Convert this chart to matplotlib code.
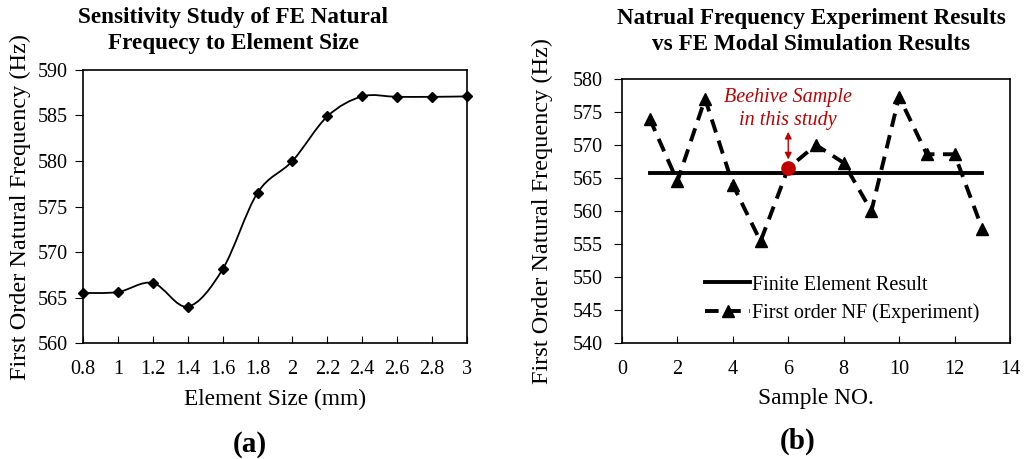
import numpy as np
import matplotlib
matplotlib.use('Agg')
import matplotlib.pyplot as plt
from matplotlib.path import Path
from matplotlib.patches import PathPatch

plt.rcParams['font.family'] = ['Liberation Serif', 'DejaVu Serif']

# (a) mesh sensitivity
element_size = [0.8, 1.0, 1.2, 1.4, 1.6, 1.8, 2.0, 2.2, 2.4, 2.6, 2.8, 3.0]
nat_freq = [565.5, 565.6, 566.6, 564.0, 568.1, 576.5, 580.0, 584.9, 587.1, 587.05, 587.05, 587.1]

# (b) experiment vs FE
sample_no = [1, 2, 3, 4, 5, 6, 7, 8, 9, 10, 11, 12, 13]
exp_freq = [574.0, 564.5, 577.0, 564.0, 555.4, 566.5, 570.0, 567.3, 560.0, 577.3, 568.6, 568.6, 557.3]
fe_freq = 565.7
beehive_sample = 6
beehive_freq = 566.5


def smooth_path(x, y):
    # excel-like smoothed line: catmull-rom as cubic bezier
    x = np.asarray(x, float)
    y = np.asarray(y, float)
    px = np.concatenate([[x[0]], x, [x[-1]]])
    py = np.concatenate([[y[0]], y, [y[-1]]])
    verts = [(x[0], y[0])]
    codes = [Path.MOVETO]
    for i in range(1, len(px) - 2):
        c1 = (px[i] + (px[i + 1] - px[i - 1]) / 6, py[i] + (py[i + 1] - py[i - 1]) / 6)
        c2 = (px[i + 1] - (px[i + 2] - px[i]) / 6, py[i + 1] - (py[i + 2] - py[i]) / 6)
        verts += [c1, c2, (px[i + 1], py[i + 1])]
        codes += [Path.CURVE4] * 3
    return Path(verts, codes)


fig = plt.figure(figsize=(10.27, 4.59), dpi=100)
ax1 = fig.add_axes([0.0808, 0.2527, 0.3739, 0.5948])
ax2 = fig.add_axes([0.6056, 0.2527, 0.3778, 0.5752])

# --- left chart
ax1.add_patch(PathPatch(smooth_path(element_size, nat_freq), fill=False, lw=1.3, color='black'))
ax1.plot(element_size, nat_freq, ls='none', marker='D', ms=5.5, color='black', clip_on=False)
ax1.set_xlim(0.8, 3.0)
ax1.set_ylim(560, 590)
ax1.set_xticks(element_size)
ax1.set_xticklabels(['0.8', '1', '1.2', '1.4', '1.6', '1.8', '2', '2.2', '2.4', '2.6', '2.8', '3'])
ax1.set_yticks(np.arange(560, 591, 5))
ax1.set_xlabel('Element Size (mm)', fontsize=16.8, labelpad=7)
ax1.set_ylabel('First Order Natural Frequency (Hz)', fontsize=17.5, labelpad=5)
ax1.tick_params(axis='y', pad=5.5)

# --- right chart
ax2.plot([sample_no[0], sample_no[-1]], [fe_freq, fe_freq], color='black', lw=2.8,
         label='Finite Element Result')
ax2.plot(sample_no, exp_freq, color='black', lw=2.8, ls=(0, (3.5, 2.2)), marker='^', ms=9,
         label='First order NF (Experiment)')
ax2.plot(beehive_sample, beehive_freq, 'o', color='#c00000', ms=9.5, zorder=5)
ax2.annotate('', xy=(beehive_sample, 567.8), xytext=(beehive_sample, 572.0),
             arrowprops=dict(arrowstyle='<|-|>', color='#c00000', lw=1.0,
                             mutation_scale=10, shrinkA=0, shrinkB=0))
ax2.text(beehive_sample, 575.4, 'Beehive Sample\nin this study', color='#c00000',
         fontsize=14.5, style='italic', ha='center', va='center', linespacing=1.3)
ax2.set_xlim(0, 14)
ax2.set_ylim(540, 580)
ax2.set_xticks(np.arange(0, 15, 2))
ax2.set_yticks(np.arange(540, 581, 5))
ax2.set_xlabel('Sample NO.', fontsize=16.8, labelpad=7)
ax2.set_ylabel('First Order Natural Frequency (Hz)', fontsize=17.5, labelpad=14)
ax2.tick_params(axis='y', pad=8.5)
ax2.legend(loc='upper left', bbox_to_anchor=(0.214, 0.256), frameon=False, fontsize=14.5,
           handlelength=2.25, handletextpad=0.1, labelspacing=0.42, borderpad=0, borderaxespad=0)

for ax in (ax1, ax2):
    ax.tick_params(axis='x', direction='in', length=5, labelsize=14.5, pad=12)
    ax.tick_params(axis='y', direction='out', length=5.5, labelsize=14.5)
    for s in ax.spines.values():
        s.set_linewidth(1.2)

fig.text(0.227, 0.933, 'Sensitivity Study of FE Natural\nFrequecy to Element Size',
         ha='center', va='center', fontsize=16.7, fontweight='bold', linespacing=1.3)
fig.text(0.79, 0.931, 'Natrual Frequency Experiment Results\nvs FE Modal Simulation Results',
         ha='center', va='center', fontsize=16.7, fontweight='bold', linespacing=1.3)
fig.text(0.2434, 0.032, '(a)', ha='center', va='center', fontsize=21, fontweight='bold')
fig.text(0.777, 0.038, '(b)', ha='center', va='center', fontsize=21, fontweight='bold')

fig.savefig('out.png', dpi=100)
